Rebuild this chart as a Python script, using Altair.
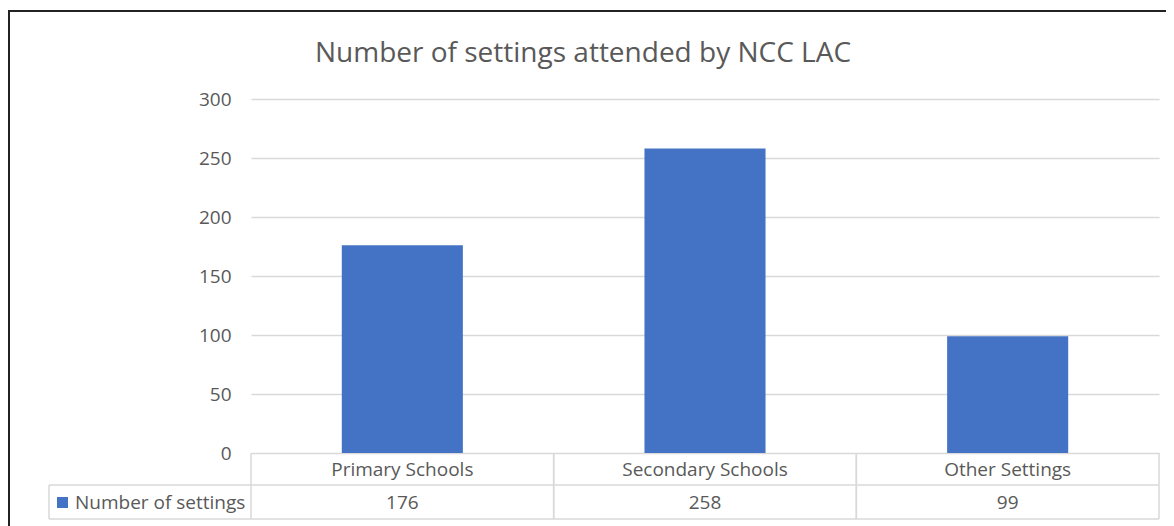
import altair as alt
import pandas as pd

categories = ["Primary Schools", "Secondary Schools", "Other Settings"]
values = [176, 258, 99]
y_ticks = [0, 50, 100, 150, 200, 250, 300]
series_name = "Number of settings"
title_text = "Number of settings attended by NCC LAC"

df = pd.DataFrame({"cat": categories, "value": values})
deco = pd.DataFrame({"k": [0]})

FONT = "Open Sans"
TXT = "#595959"
GRID = "#d9d9d9"
BLUE = "#4472C4"
W, H = 908, 354
FS = 19

xscale = alt.Scale(domain=categories, paddingInner=0, paddingOuter=0)

base = alt.Chart(df)

bars = base.mark_bar(width=alt.RelativeBandSize(0.4), color=BLUE).encode(
    x=alt.X("cat:N", scale=xscale, axis=None, sort=categories),
    y=alt.Y("value:Q", scale=alt.Scale(domain=[0, 300]),
            axis=alt.Axis(values=y_ticks, grid=True, domain=False, ticks=False,
                          labelPadding=20, labelColor=TXT, labelFont=FONT,
                          labelFontSize=FS, gridColor=GRID, gridWidth=1.5, title=None)),
)

vlines0 = base.mark_rule(color=GRID, strokeWidth=1.5).encode(
    x=alt.X("cat:N", scale=xscale, sort=categories, bandPosition=0),
    y=alt.value(H), y2=alt.value(420),
)
vlines1 = base.mark_rule(color=GRID, strokeWidth=1.5).encode(
    x=alt.X("cat:N", scale=xscale, sort=categories, bandPosition=1),
    y=alt.value(H), y2=alt.value(420),
)

d = alt.Chart(deco)
hline1 = d.mark_rule(color=GRID, strokeWidth=1.5).encode(
    x=alt.value(-202), x2=alt.value(W), y=alt.value(386))
hline2 = d.mark_rule(color=GRID, strokeWidth=1.5).encode(
    x=alt.value(-202), x2=alt.value(W), y=alt.value(420))
vleft = d.mark_rule(color=GRID, strokeWidth=1.5).encode(
    x=alt.value(-202), y=alt.value(386), y2=alt.value(420))

frame = d.mark_rect(filled=False, stroke="#222222", strokeWidth=2).encode(
    x=alt.value(-242), x2=alt.value(2000), y=alt.value(-88), y2=alt.value(2000))

title = d.mark_text(font=FONT, fontSize=28, color=TXT, align="center", baseline="middle").encode(
    x=alt.value(332), y=alt.value(-45), text=alt.value(title_text))

header = base.mark_text(font=FONT, fontSize=FS, color=TXT, baseline="middle").encode(
    x=alt.X("cat:N", scale=xscale, sort=categories), y=alt.value(371), text="cat:N")

nums = base.mark_text(font=FONT, fontSize=FS, color=TXT, baseline="middle").encode(
    x=alt.X("cat:N", scale=xscale, sort=categories), y=alt.value(404), text="value:Q")

leg_sq = d.mark_square(size=121, color=BLUE, opacity=1).encode(
    x=alt.value(-188.5), y=alt.value(403.5))
leg_txt = d.mark_text(font=FONT, fontSize=FS, color=TXT, align="left", baseline="middle").encode(
    x=alt.value(-176), y=alt.value(404), text=alt.value(series_name))

chart = alt.layer(
    frame, bars, vlines0, vlines1, hline1, hline2, vleft, title, header, nums, leg_sq, leg_txt
).properties(
    width=W, height=H,
    padding={"left": 243, "top": 91, "right": 7, "bottom": 73},
    autosize=alt.AutoSizeParams(type="none"),
).configure(background="white", view=alt.ViewConfig(stroke=None))

chart.save("out.html", embed_options={"renderer": "svg", "actions": False})
